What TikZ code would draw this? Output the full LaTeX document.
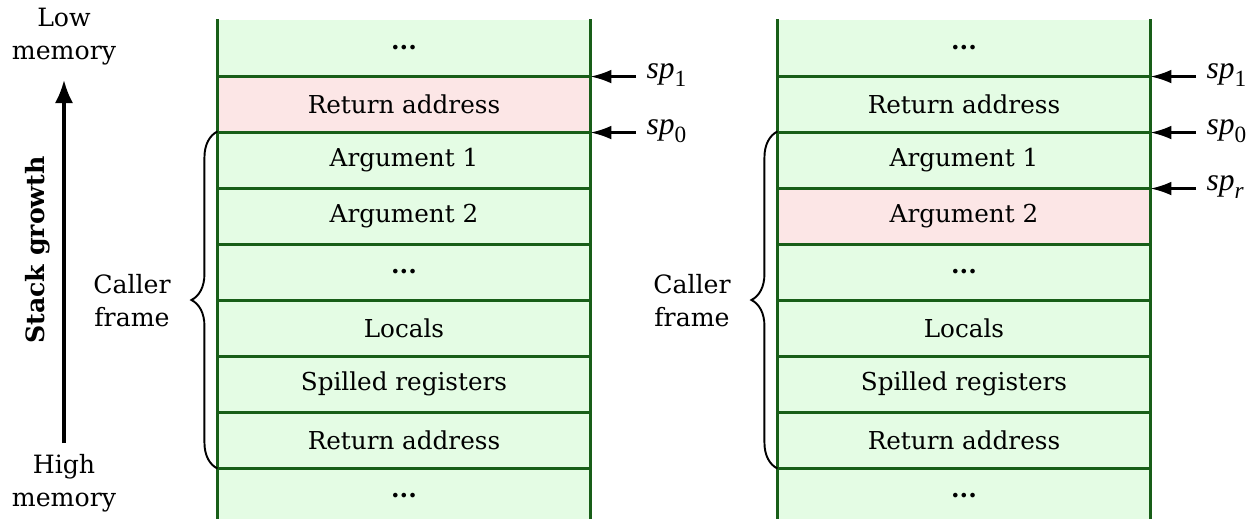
\documentclass[tikz,border=0pt]{standalone}
\usepackage{fontspec}
\setmainfont{DejaVu Serif}
\newfontfamily\ptrfont{Liberation Serif}
\usetikzlibrary{arrows.meta,decorations.pathreplacing}

\definecolor{cellgreen}{RGB}{228,252,228}
\definecolor{cellpink}{RGB}{252,230,230}
\definecolor{rulegreen}{RGB}{24,94,24}

% stack pointer name: italic "sp" with a lowered index
\newcommand{\spname}[1]{{\ptrfont\fontsize{11.5}{13}\selectfont\itshape sp}\raisebox{-0.55ex}{\ptrfont\fontsize{8.5}{10}\selectfont #1}}
% heavy ellipsis for elided cells
\newcommand{\elide}{\textbf{...}}

\tikzset{
  cell/.style={fill=cellgreen, minimum width=135.78pt, minimum height=20.44pt,
               inner sep=0pt, font=\fontsize{9}{12}\selectfont},
  hot/.style={cell, fill=cellpink},
  stackrule/.style={draw=rulegreen, line width=0.8pt},
  ptr/.style={-{Latex[length=7.6pt,width=5pt]}, line width=0.8pt},
  ptrlabel/.style={anchor=west, inner sep=0pt},
  growth/.style={-{Latex[length=8.4pt,width=6.6pt]}, line width=1.1pt},
  framebrace/.style={decorate, decoration={brace, amplitude=9.5pt}, line width=0.7pt},
  sidetext/.style={align=center, inner sep=0pt, font=\fontsize{9.2}{12}\selectfont},
}

\begin{document}
\begin{tikzpicture}[x=0.365pt, y=-0.365pt]
  \useasboundingbox (0,0) rectangle (1249,519);

  % left stack: cells
  \foreach \txt/\sty [count=\i from 0] in
    {\elide/cell, Return address/hot, Argument 1/cell, Argument 2/cell, \elide/cell,
     Locals/cell, Spilled registers/cell, Return address/cell, \elide/cell}
    \node[\sty] (L\i) at (404,48+56*\i) {\txt};

  % right stack: cells
  \foreach \txt/\sty [count=\i from 0] in
    {\elide/cell, Return address/cell, Argument 1/cell, Argument 2/hot, \elide/cell,
     Locals/cell, Spilled registers/cell, Return address/cell, \elide/cell}
    \node[\sty] (R\i) at (964,48+56*\i) {\txt};

  % cell separators and stack walls
  \foreach \i in {0,...,7} {
    \draw[stackrule] (L\i.south west) -- (L\i.south east);
    \draw[stackrule] (R\i.south west) -- (R\i.south east);
  }
  \draw[stackrule] (L0.north west) -- (L8.south west);
  \draw[stackrule] (L0.north east) -- (L8.south east);
  \draw[stackrule] (R0.north west) -- (R8.south west);
  \draw[stackrule] (R0.north east) -- (R8.south east);

  % stack pointers, left
  \node[ptrlabel] (Lsp1) at (646,75)  {\spname{1}};
  \node[ptrlabel] (Lsp0) at (646,131) {\spname{0}};
  \draw[ptr] ([xshift=-3.6pt]Lsp1.west |- L0.south east) -- (L0.south east);
  \draw[ptr] ([xshift=-3.6pt]Lsp0.west |- L1.south east) -- (L1.south east);

  % stack pointers, right
  \node[ptrlabel] (Rsp1) at (1206,75)  {\spname{1}};
  \node[ptrlabel] (Rsp0) at (1206,131) {\spname{0}};
  \node[ptrlabel] (Rspr) at (1206,187) {\spname{\itshape r}};
  \draw[ptr] ([xshift=-3.6pt]Rsp1.west |- R0.south east) -- (R0.south east);
  \draw[ptr] ([xshift=-3.6pt]Rsp0.west |- R1.south east) -- (R1.south east);
  \draw[ptr] ([xshift=-3.6pt]Rspr.west |- R2.south east) -- (R2.south east);

  % caller frame braces
  \draw[framebrace] (L7.south west) -- (L2.north west);
  \draw[framebrace] (R7.south west) -- (R2.north west);
  \node[sidetext] (Lcaller) at (132,301) {Caller\\frame};
  \node[sidetext] (Rcaller) at (692,301) {Caller\\frame};

  % growth direction
  \node[sidetext] (low)  at (64,37)  {Low\\memory};
  \node[sidetext] (high) at (64,483) {High\\memory};
  \coordinate (gbot) at (64,443);
  \coordinate (gtop) at (64,80);
  \draw[growth] (gbot) -- (gtop);
  \node[rotate=90, inner sep=0pt, font=\fontsize{9.2}{12}\selectfont\bfseries]
    (growthlabel) at (38,250) {Stack growth};
\end{tikzpicture}
\end{document}
